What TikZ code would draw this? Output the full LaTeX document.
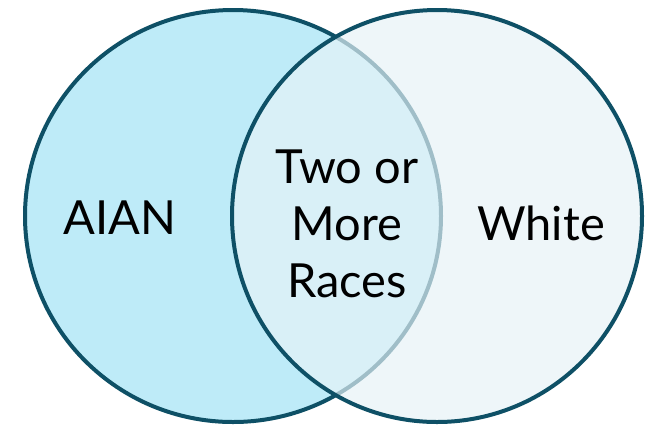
\documentclass[tikz,border=0pt]{standalone}
\usepackage{fontspec}
\setmainfont{Lato}
\definecolor{edge}{RGB}{14,80,102}
\definecolor{leftfill}{RGB}{190,235,248}
\definecolor{rightfill}{RGB}{230,243,247}
\begin{document}
\begin{tikzpicture}[x=1pt,y=-1pt,
  ring/.style={draw=edge,line width=4pt},
  lbl/.style={font=\fontsize{47}{57}\selectfont,text=black,align=center,inner sep=0pt}]
\useasboundingbox (0,0) rectangle (652,424);
\fill[white] (0,0) rectangle (652,424);
\draw[ring,fill=leftfill] (233,216) ellipse [x radius=208,y radius=206];
\fill[rightfill,fill opacity=0.68] (437,216) ellipse [x radius=205,y radius=206];
\draw[ring] (437,216) ellipse [x radius=205,y radius=206];
\node[lbl] (aian) at (120,218) {AIAN};
\node[lbl] (two) at (347,224) {Two or\\More\\Races};
\node[lbl] (white) at (541,223) {White};
\end{tikzpicture}
\end{document}
